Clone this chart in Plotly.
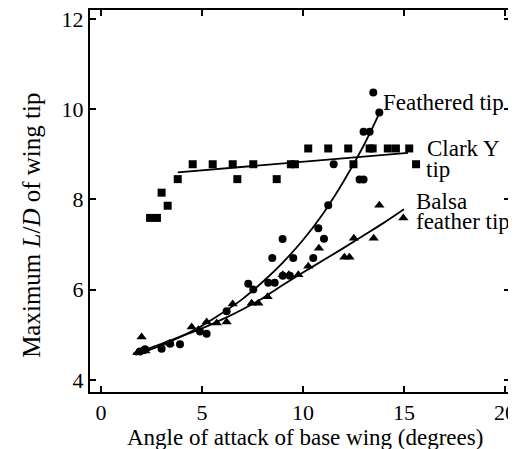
import plotly.graph_objects as go

# Clark Y tip (squares)
clark_x = [2.43, 2.77, 3.0, 3.3, 3.8, 4.54, 5.53, 6.52, 6.75, 7.54, 8.7, 9.4, 9.6,
           10.26, 11.25, 12.24, 12.5, 13.3, 13.45, 14.2, 14.6, 15.26, 15.6]
clark_y = [7.59, 7.59, 8.15, 7.86, 8.45, 8.78, 8.78, 8.78, 8.45, 8.78, 8.45, 8.78, 8.78,
           9.13, 9.13, 9.13, 8.78, 9.13, 9.13, 9.13, 9.13, 9.13, 8.78]

# Feathered tip (circles)
feath_x = [1.93, 2.18, 3.0, 3.42, 3.91, 4.9, 5.23, 6.22, 7.29, 7.54, 8.28, 8.6, 8.48,
           8.99, 9.0, 9.35, 9.52, 10.51, 10.76, 11.04, 11.25, 11.52, 12.8, 13.0,
           13.0, 13.3, 13.48, 13.78]
feath_y = [4.63, 4.68, 4.69, 4.8, 4.79, 5.07, 5.02, 5.52, 6.13, 6.0, 6.15, 6.15, 6.7,
           7.12, 6.31, 6.31, 6.7, 6.7, 7.36, 7.13, 7.87, 8.78, 8.44, 8.44,
           9.5, 9.5, 10.37, 9.93]

# Balsa feather tip (triangles)
balsa_x = [1.8, 2.0, 2.2, 2.01, 3.4, 4.49, 4.82, 5.23, 5.73, 6.22, 6.52, 7.46, 7.79,
           8.25, 9.0, 9.3, 9.77, 10.26, 10.79, 12.05, 12.3, 12.52, 13.5, 13.78, 14.97]
balsa_y = [4.6, 4.62, 4.64, 4.95, 4.81, 5.17, 5.11, 5.28, 5.26, 5.28, 5.68, 5.7, 5.7,
           5.84, 6.33, 6.33, 6.33, 6.52, 6.92, 6.72, 6.72, 7.14, 7.14, 7.87, 7.59]

# Fitted curves
clark_fit_x = [3.8, 15.2]
clark_fit_y = [8.6, 9.03]
feath_fit_x = [1.7, 3, 4, 5, 6, 7, 8, 9, 10, 11, 12, 13, 13.8]
feath_fit_y = [4.55, 4.77, 4.97, 5.20, 5.48, 5.79, 6.17, 6.60, 7.10, 7.69, 8.39, 9.19, 9.93]
balsa_fit_x = [1.6, 3, 4, 5, 6, 7, 8, 9, 10, 11, 12, 13, 14, 15]
balsa_fit_y = [4.58, 4.8, 4.97, 5.14, 5.34, 5.56, 5.81, 6.1, 6.38, 6.65, 6.92, 7.2, 7.48, 7.78]

x_ticks = [0, 5, 10, 15, 20]
y_ticks = [4, 6, 8, 10, 12]

FONT = "Liberation Serif, Times New Roman, serif"
FS = 22

fig = go.Figure()
fig.add_trace(go.Scatter(x=clark_fit_x, y=clark_fit_y, mode="lines",
                         line=dict(color="black", width=1.8)))
fig.add_trace(go.Scatter(x=feath_fit_x, y=feath_fit_y, mode="lines",
                         line=dict(color="black", width=1.8, shape="spline")))
fig.add_trace(go.Scatter(x=balsa_fit_x, y=balsa_fit_y, mode="lines",
                         line=dict(color="black", width=1.8, shape="spline")))
fig.add_trace(go.Scatter(x=clark_x, y=clark_y, mode="markers",
                         marker=dict(symbol="square", size=8, color="black")))
fig.add_trace(go.Scatter(x=feath_x, y=feath_y, mode="markers",
                         marker=dict(symbol="circle", size=8, color="black")))
fig.add_trace(go.Scatter(x=balsa_x, y=balsa_y, mode="markers",
                         marker=dict(symbol="triangle-up", size=9, color="black")))

labels = [
    ("Feathered tip", 13.9, 10.16),
    ("Clark Y", 16.1, 9.12),
    ("tip", 16.05, 8.66),
    ("Balsa", 15.55, 7.95),
    ("feather tip", 15.55, 7.5),
]
for txt, lx, ly in labels:
    fig.add_annotation(x=lx, y=ly, text=txt, showarrow=False, xanchor="left",
                       yanchor="middle", borderpad=0,
                       font=dict(family=FONT, size=23, color="black"))

fig.add_annotation(text="Maximum <i>L</i>/<i>D</i> of wing tip", xref="paper", yref="paper",
                   x=-0.138, y=0.435, textangle=-90, showarrow=False,
                   xanchor="center", yanchor="middle",
                   font=dict(family=FONT, size=25, color="black"))
fig.add_annotation(text="Angle of attack of base wing (degrees)", xref="paper", yref="paper",
                   x=0.512, y=-0.118, showarrow=False,
                   xanchor="center", yanchor="middle",
                   font=dict(family=FONT, size=23, color="black"))

axis_common = dict(showline=True, linecolor="black", linewidth=2, mirror="ticks",
                   ticks="inside", ticklen=6, tickwidth=1.5, tickcolor="black",
                   showgrid=False, zeroline=False, automargin=False,
                   ticklabeloverflow="allow",
                   tickfont=dict(family=FONT, size=FS, color="black"))

# the page body adds an 8px offset, so the figure is 8px smaller than the window
fig.update_layout(
    width=508, height=441,
    margin=dict(l=82, r=6, t=2, b=57),
    paper_bgcolor="white", plot_bgcolor="white",
    showlegend=False,
    xaxis=dict(range=[-0.545, 20.25], tickvals=x_ticks, **axis_common),
    yaxis=dict(range=[3.73, 12.2], tickvals=y_ticks, **axis_common),
)

fig.write_html("out.html")
